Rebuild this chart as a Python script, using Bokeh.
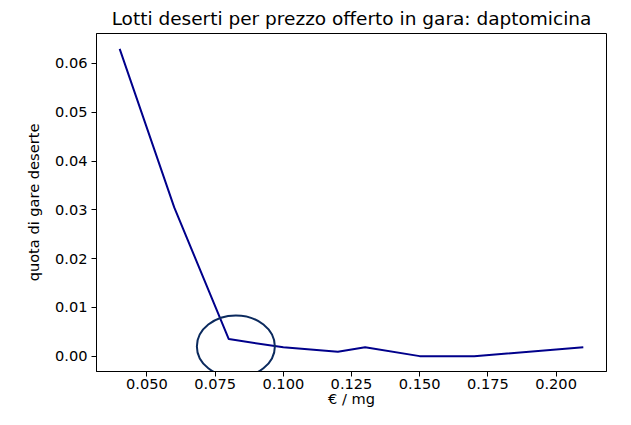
from bokeh.plotting import figure
from bokeh.models import FixedTicker, Range1d
from bokeh.embed import file_html
from bokeh.resources import INLINE

# data
prezzo = [0.04, 0.06, 0.08, 0.10, 0.12, 0.13, 0.15, 0.17, 0.21]
quota = [0.063, 0.0305, 0.0035, 0.0018, 0.0009, 0.0018, 0.0, 0.0, 0.0018]
x_ticks = [0.050, 0.075, 0.100, 0.125, 0.150, 0.175, 0.200]
y_ticks = [0.00, 0.01, 0.02, 0.03, 0.04, 0.05, 0.06]
x_tick_labels = ["0.050", "0.075", "0.100", "0.125", "0.150", "0.175", "0.200"]
y_tick_labels = ["0.00", "0.01", "0.02", "0.03", "0.04", "0.05", "0.06"]
# highlighted circle (data units)
circ_x = [0.0826]
circ_y = [0.0020]
circ_w = [0.0286]
circ_h = [0.0127]

FONT = "DejaVu Sans"

p = figure(width=615, height=409, output_backend="svg", toolbar_location=None,
           title="Lotti deserti per prezzo offerto in gara: daptomicina",
           x_range=Range1d(0.0315, 0.2185), y_range=Range1d(-0.00315, 0.06615),
           min_border_left=96, min_border_right=9, min_border_top=33,
           min_border_bottom=20)

p.line(prezzo, quota, line_color="#00008b", line_width=2)
p.ellipse(x=circ_x, y=circ_y, width=circ_w, height=circ_h,
          fill_alpha=0, line_color="#0b2a5e", line_width=2)

p.title.align = "center"
p.title.text_font = FONT
p.title.text_font_size = "18.5px"
p.title.text_font_style = "normal"
p.title.text_color = "black"

p.xgrid.visible = False
p.ygrid.visible = False
p.outline_line_color = "black"
p.outline_line_width = 1
p.outline_line_alpha = 1

for ax, ticks, labels in ((p.xaxis[0], x_ticks, x_tick_labels),
                          (p.yaxis[0], y_ticks, y_tick_labels)):
    ax.ticker = FixedTicker(ticks=ticks)
    ax.major_label_overrides = {t: l for t, l in zip(ticks, labels)}
    ax.minor_tick_line_color = None
    ax.major_tick_in = 0
    ax.major_tick_out = 5
    ax.major_tick_line_color = "black"
    ax.axis_line_color = "black"
    ax.major_label_text_font = FONT
    ax.major_label_text_font_size = "14.6px"
    ax.major_label_text_color = "black"
    ax.axis_label_text_font = FONT
    ax.axis_label_text_font_size = "14.6px"
    ax.axis_label_text_font_style = "normal"
    ax.axis_label_text_color = "black"

p.xaxis.axis_label = "€ / mg"
p.yaxis.axis_label = "quota di gare deserte"
p.yaxis.major_label_orientation = "horizontal"
p.xaxis.major_label_standoff = 2
p.yaxis.major_label_standoff = 4
p.xaxis.axis_label_standoff = -2
p.yaxis.axis_label_standoff = 10

open("out.html", "w").write(file_html(p, INLINE))
